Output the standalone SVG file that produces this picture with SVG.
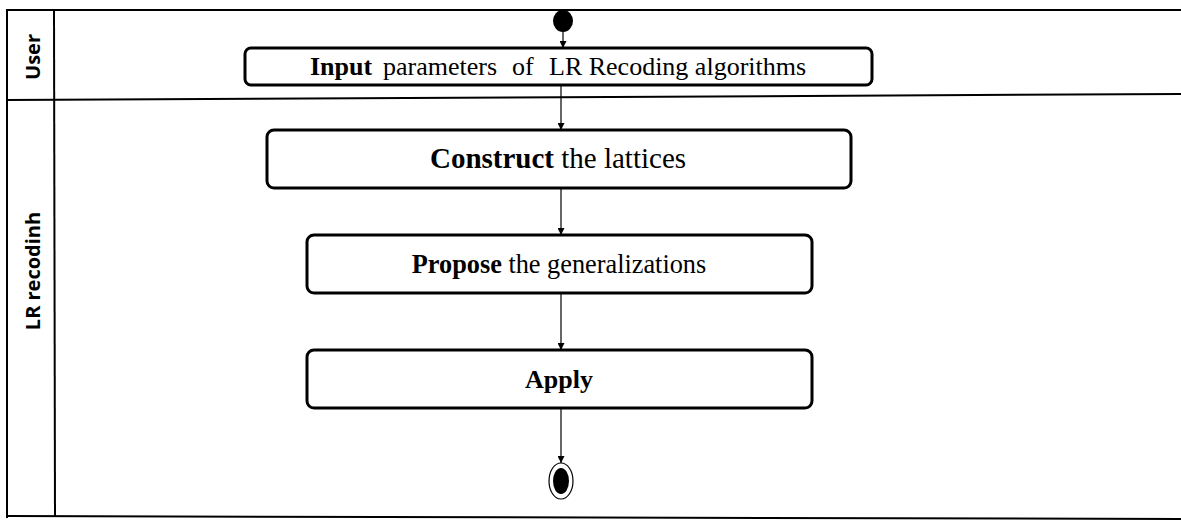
<svg xmlns="http://www.w3.org/2000/svg" width="1181" height="520" viewBox="0 0 1181 520">
<style>
.frame{stroke:#000;stroke-width:2;fill:none}
.box{fill:#fff;stroke:#000;stroke-width:3}
.lbl{font-family:"Liberation Serif","DejaVu Serif",serif;fill:#000}
.mid{text-anchor:middle}
.lane{font-family:"Open Sans","DejaVu Sans",sans-serif;font-weight:bold;font-size:20px;fill:#000;text-anchor:middle}
.conn{stroke:#000;stroke-width:1.2;fill:none;marker-end:url(#arr)}
</style>
<defs>
<marker id="arr" viewBox="0 0 10 10" refX="10" refY="5" markerWidth="7" markerHeight="7" markerUnits="userSpaceOnUse" orient="auto">
<path d="M0,0 L10,5 L0,10 z" fill="#000"/>
</marker>
</defs>
<rect width="1181" height="520" fill="#fff"/>
<g id="lanes">
<line class="frame" x1="6" y1="10" x2="1181" y2="10"/>
<line class="frame" x1="7" y1="10" x2="7" y2="518"/>
<line class="frame" x1="54" y1="10" x2="55" y2="516"/>
<line class="frame" x1="7" y1="100" x2="1181" y2="94"/>
<line class="frame" x1="7" y1="516" x2="1181" y2="519"/>
<text class="lane" transform="translate(40,57) rotate(-90)">User</text>
<text class="lane" transform="translate(40,271) rotate(-90)">LR recodinh</text>
</g>
<g id="connectors">
<line class="conn" x1="563" y1="30" x2="563" y2="48"/>
<line class="conn" x1="561" y1="85" x2="561" y2="130"/>
<line class="conn" x1="561" y1="188" x2="561" y2="235"/>
<line class="conn" x1="561" y1="293" x2="561" y2="350"/>
<line class="conn" x1="561" y1="408" x2="561" y2="463"/>
</g>
<g id="start">
<ellipse cx="563" cy="21" rx="10" ry="11" fill="#000"/>
</g>
<g id="input">
<rect class="box" x="245" y="48" width="627" height="37" rx="6"/>
<text class="lbl" y="75" font-size="26"><tspan x="310" font-weight="bold">Input</tspan><tspan x="383">parameters</tspan><tspan x="512">of</tspan><tspan x="549">LR Recoding algorithms</tspan></text>
</g>
<g id="construct">
<rect class="box" x="267" y="130" width="584" height="58" rx="7"/>
<text class="lbl mid" x="558" y="168" font-size="29"><tspan font-weight="bold">Construct</tspan> the lattices</text>
</g>
<g id="propose">
<rect class="box" x="307" y="235" width="505" height="58" rx="7"/>
<text class="lbl mid" x="559" y="273" font-size="26.3"><tspan font-weight="bold">Propose</tspan> the generalizations</text>
</g>
<g id="apply">
<rect class="box" x="307" y="350" width="505" height="58" rx="7"/>
<text class="lbl mid" x="559" y="388" font-size="26" font-weight="bold">Apply</text>
</g>
<g id="end">
<ellipse cx="561" cy="481" rx="12" ry="18" fill="#fff" stroke="#000" stroke-width="1.2"/>
<ellipse cx="561" cy="481" rx="8" ry="13" fill="#000"/>
</g>
</svg>
